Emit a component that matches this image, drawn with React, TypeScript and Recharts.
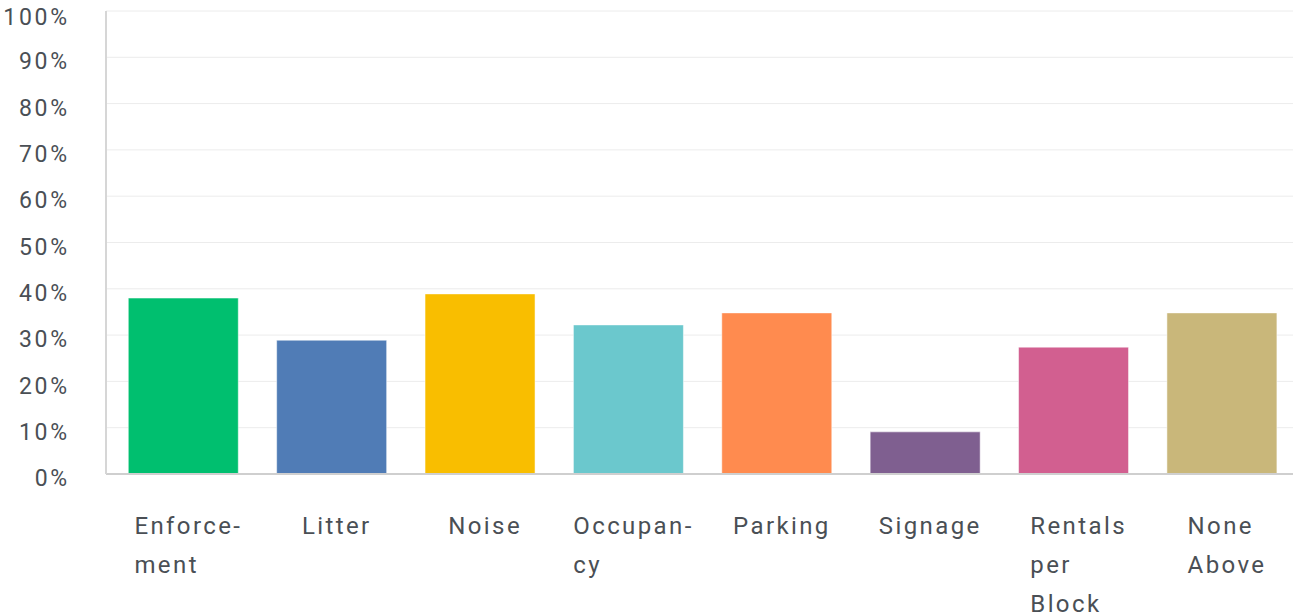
import { BarChart, Bar, XAxis, YAxis, CartesianGrid, Cell } from 'recharts';

const categories = ['Enforcement', 'Litter', 'Noise', 'Occupancy', 'Parking', 'Signage', 'Rentals per Block', 'None Above'];
const values = [38.0, 28.9, 38.9, 32.2, 34.8, 9.1, 27.4, 34.8];
const tickLines = [
  ['Enforce-', 'ment'],
  ['Litter'],
  ['Noise'],
  ['Occupan-', 'cy'],
  ['Parking'],
  ['Signage'],
  ['Rentals', 'per', 'Block'],
  ['None', 'Above'],
];
const yTicks = [0, 10, 20, 30, 40, 50, 60, 70, 80, 90, 100];
const colors = ['#00BF6F', '#507CB6', '#F9BE00', '#6BC8CD', '#FF8B4F', '#7F5F90', '#D25F90', '#C9B77A'];

const data = categories.map((name, i) => ({ name, value: values[i] }));

const FONT = 'Roboto, "Noto Sans", sans-serif';
const TEXT = '#4a4f55';
const X_SIZE = 24;
const X_SPACING = 2.4;

let ctx: CanvasRenderingContext2D | null = null;
function measure(s: string) {
  if (!ctx) ctx = document.createElement('canvas').getContext('2d');
  if (!ctx) return s.length * 13;
  ctx.font = `${X_SIZE}px ${FONT}`;
  return ctx.measureText(s).width + (s.length - 1) * X_SPACING;
}

function XTick(props: any) {
  const { x, y, index } = props;
  const lines = tickLines[index] || [];
  const w = Math.max(...lines.map(measure));
  const startX = x - w / 2 + 4;
  return (
    <text x={startX} y={y + 52} fill={TEXT} fontSize={X_SIZE} fontFamily={FONT} letterSpacing={X_SPACING} textAnchor="start">
      {lines.map((l, i) => (
        <tspan key={i} x={startX} dy={i === 0 ? 0 : 39}>
          {l}
        </tspan>
      ))}
    </text>
  );
}

export default function App() {
  return (
    <div style={{ position: 'absolute', left: 0, top: 0, background: '#fff', overflow: 'hidden', width: 1293, height: 612 }}>
      <BarChart width={1296} height={612} data={data} margin={{ top: 11, right: 0, left: 0, bottom: 0 }} barCategoryGap="13%">
        <CartesianGrid vertical={false} stroke="#ececec" />
        <XAxis
          dataKey="name"
          interval={0}
          height={138}
          tickLine={false}
          padding={{ left: 3, right: 0 }}
          axisLine={{ stroke: '#cfcfcf', strokeWidth: 2 }}
          tick={<XTick />}
        />
        <YAxis
          width={106}
          domain={[0, 100]}
          ticks={yTicks}
          tickFormatter={(v) => `${v}%`}
          tickLine={false}
          axisLine={{ stroke: '#d6d6d6', strokeWidth: 2 }}
          tick={{ fill: TEXT, fontSize: 23, fontFamily: FONT, dy: 4, letterSpacing: 2.8 }}
          tickMargin={30}
        />
        <Bar dataKey="value" isAnimationActive={false} stroke="rgba(255,255,255,0.5)" strokeWidth={1}>
          {data.map((d, i) => (
            <Cell key={d.name} fill={colors[i]} />
          ))}
        </Bar>
      </BarChart>
    </div>
  );
}
